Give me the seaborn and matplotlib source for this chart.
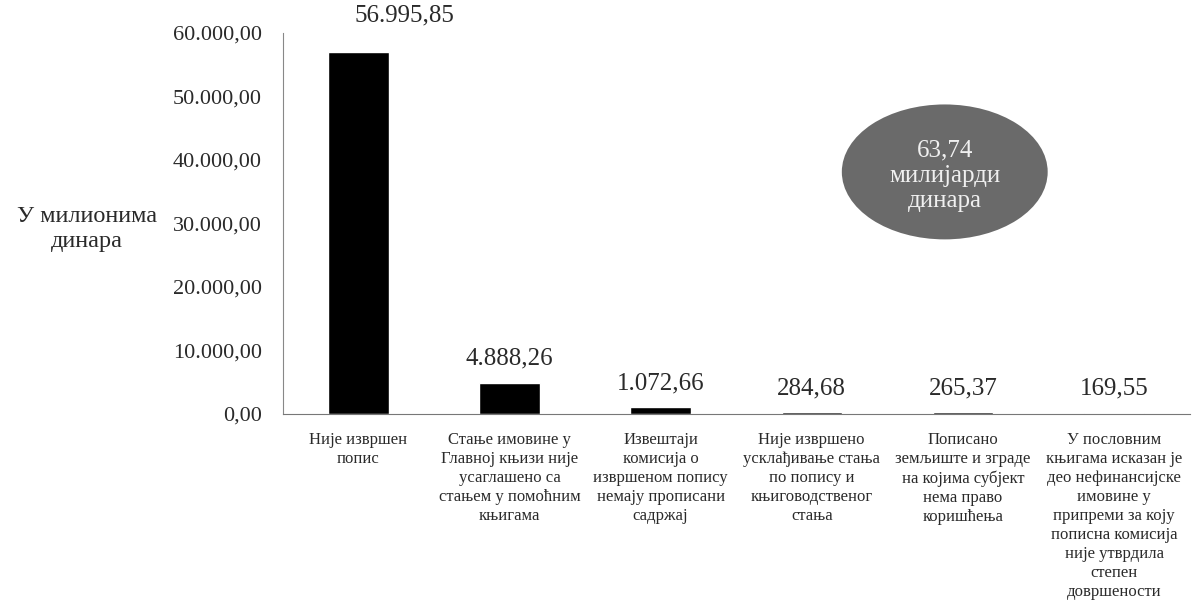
import matplotlib
matplotlib.use("Agg")
import matplotlib.pyplot as plt
from matplotlib.patches import Ellipse
from matplotlib.ticker import FuncFormatter, FixedLocator
import seaborn as sns
import pandas as pd

# -----------------------------------------------------
# DATA
# -----------------------------------------------------
categories = [
    "Није извршен\nпопис",
    "Стање имовине у\nГлавној књизи није\nусаглашено са\nстањем у помоћним\nкњигама",
    "Извештаји\nкомисија о\nизвршеном попису\nнемају прописани\nсадржај",
    "Није извршено\nусклађивање стања\nпо попису и\nкњиговодственог\nстања",
    "Пописано\nземљиште и зграде\nна којима субјект\nнема право\nкоришћења",
    "У пословним\nкњигама исказан је\nдео нефинансијске\nимовине у\nприпреми за коју\nпописна комисија\nније утврдила\nстепен\nдовршености",
]
values = [56995.85, 4888.26, 1072.66, 284.68, 265.37, 169.55]
value_labels = ["56.995,85", "4.888,26", "1.072,66", "284,68", "265,37", "169,55"]
y_ticks = [0, 10000, 20000, 30000, 40000, 50000, 60000]
total_text = "63,74\nмилијарди\nдинара"
y_label = "У милионима\nдинара"

df = pd.DataFrame({"kategorija": categories, "iznos": values})

# -----------------------------------------------------
# STYLE
# -----------------------------------------------------
sns.set_style("white")
plt.rcParams["font.family"] = ["Liberation Serif", "DejaVu Serif"]
text_col = "#2a2a2a"

fig = plt.figure(figsize=(11.98, 6.07), dpi=100)
ax = fig.add_axes([0.236, 0.318, 0.757, 0.628])

sns.barplot(data=df, x="kategorija", y="iznos", color="black",
            width=0.4, saturation=1, ax=ax)

ax.set_ylim(0, 60000)
ax.set_xlim(-0.5, len(categories) - 0.5)
ax.set_xlabel("")
ax.set_ylabel("")

def fmt(v, pos):
    s = f"{v:,.2f}"
    return s.replace(",", "X").replace(".", ",").replace("X", ".")

ax.yaxis.set_major_locator(FixedLocator(y_ticks))
ax.yaxis.set_major_formatter(FuncFormatter(fmt))
ax.tick_params(axis="y", direction="inout", length=6, width=0.8,
               colors="#888888", labelcolor=text_col, labelsize=16, pad=12)

# category labels under the bars, boundary ticks between them
ax.tick_params(axis="x", which="major", length=0, labelsize=12,
               labelcolor=text_col, pad=13)
for lbl in ax.get_xticklabels():
    lbl.set_linespacing(1.25)
    lbl.set_verticalalignment("top")
ax.set_xticks([i - 0.5 for i in range(len(categories) + 1)], minor=True)
ax.tick_params(axis="x", which="minor", direction="out", length=4,
               width=0.8, colors="#888888")

sns.despine(ax=ax)
ax.spines["left"].set_color("#888888")
ax.spines["bottom"].set_color("#777777")

# value labels
for i, (v, t) in enumerate(zip(values, value_labels)):
    if i == 0:
        off = (46, 36)
    else:
        off = (0, 24)
    ax.annotate(t, (i, v), xytext=off, textcoords="offset pixels",
                ha="center", va="center", fontsize=18, color=text_col,
                annotation_clip=False)

# total in ellipse
ell = Ellipse((0.73, 0.635), 0.227, 0.354, transform=ax.transAxes,
              facecolor="#6a6a6a", edgecolor="none")
ax.add_patch(ell)
ax.text(0.73, 0.625, total_text, transform=ax.transAxes, ha="center",
        va="center", fontsize=18, color="#f0f0f0", linespacing=1.2)

fig.text(87 / 1198, 1 - 229 / 607, y_label, ha="center", va="center",
         fontsize=17.5, color=text_col, linespacing=1.25)

fig.savefig("out.png", dpi=100, facecolor="white")
